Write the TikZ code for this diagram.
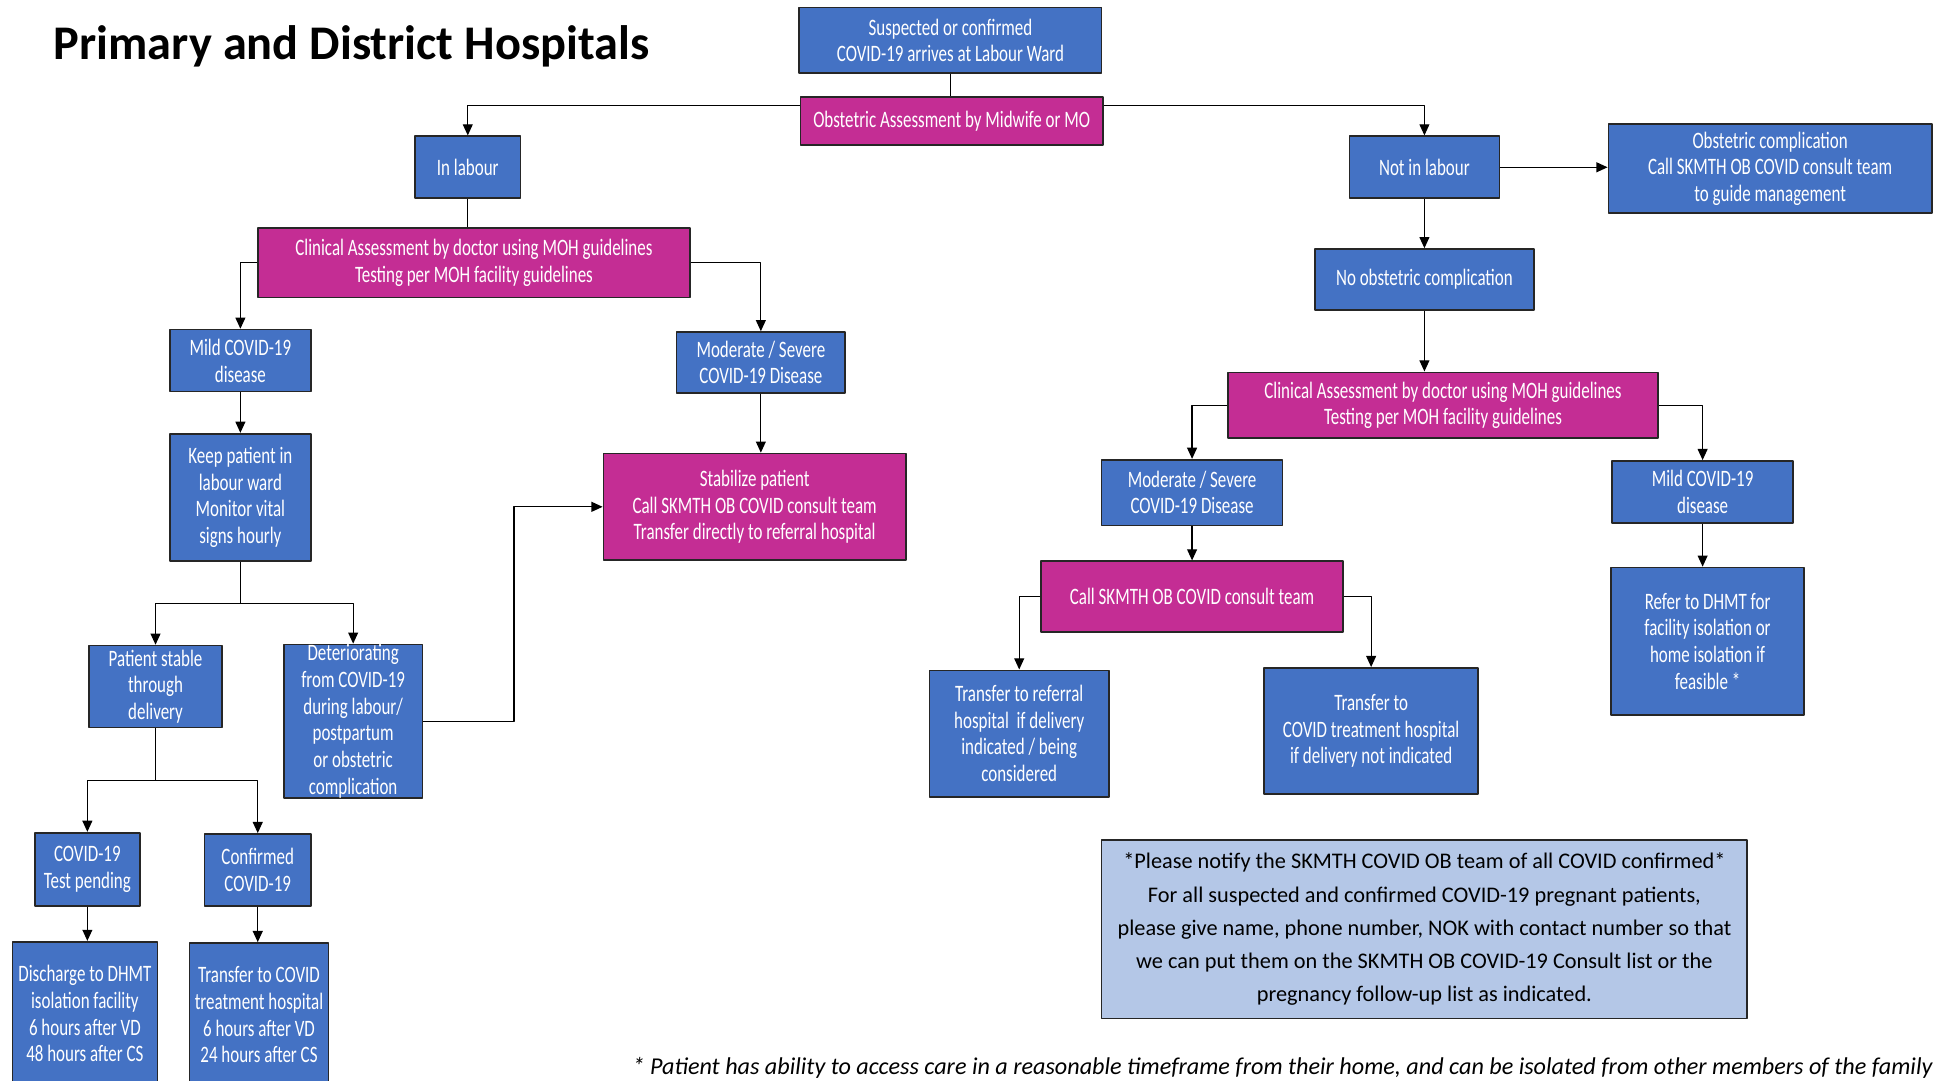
\documentclass[tikz,border=0pt]{standalone}
\usepackage{fontspec}
\setmainfont{Carlito}
\newfontfamily\boxfont[FakeStretch=0.72]{Carlito}
\usetikzlibrary{arrows.meta}
\definecolor{nblue}{HTML}{4472C4}
\definecolor{nmag}{HTML}{C42D94}
\definecolor{nnote}{HTML}{B4C7E7}
\definecolor{nline}{HTML}{262626}
\begin{document}
\begin{tikzpicture}[x=1pt,y=-1pt,>={Triangle[length=9pt,width=8pt]},line join=round,
	box/.style={draw=nline,line width=1.4pt,fill=nblue,text=white,align=center,inner sep=0pt,
		font=\boxfont\fontsize{19}{21.5}\selectfont},
	pbox/.style={box,fill=nmag},
	wh/.style 2 args={minimum width=#1pt,minimum height=#2pt},
	con/.style={line width=1pt}]
	\clip (0,0) rectangle (1568,872);
	% title and footnote
	\node[anchor=base west,font=\bfseries\fontsize{39}{46}\selectfont] (title) at (40,48) {Primary and District Hospitals};
	\node[anchor=base east,font=\itshape\fontsize{19.5}{22}\selectfont] (foot) at (1563,867)
	{* Patient has ability to access care in a reasonable timeframe from their home, and can be isolated from other members of the family};
	% top
	\node[box,wh={244}{53}] (sus) at (767,32.5) {Suspected or confirmed\\COVID-19 arrives at Labour Ward};
	\node[pbox,wh={244}{39}] (obs) at (768,97.5) {Obstetric Assessment by Midwife or MO};
	\node[box,wh={85}{50}] (inl) at (377.5,135) {In labour};
	\node[box,wh={121}{50}] (notl) at (1149.5,135) {Not in labour};
	% in labour branch
	\node[pbox,wh={349}{56}] (clinL) at (382.5,212) {Clinical Assessment by doctor using MOH guidelines\\Testing per MOH facility guidelines};
	\node[box,wh={114}{50}] (mildL) at (194,291) {Mild COVID-19\\disease};
	\node[box,wh={136}{49}] (modL) at (614,292.5) {Moderate / Severe\\COVID-19 Disease};
	\node[pbox,wh={244}{86}] (stab) at (609,409) {Stabilize patient\\Call SKMTH OB COVID consult team\\Transfer directly to referral hospital};
	\node[box,wh={114}{103}] (keep) at (194,401.5) {Keep patient in\\labour ward\\Monitor vital\\signs hourly};
	\node[box,wh={107}{66}] (stable) at (125.5,554) {Patient stable\\through\\delivery};
	\node[box,wh={112}{122}] (deter) at (285,582) {Deteriorating\\from COVID-19\\during labour/\\postpartum\\ or obstetric\\complication};
	\node[box,wh={85}{59}] (pend) at (70.5,701.5) {COVID-19\\Test pending};
	\node[box,wh={86}{58}] (conf) at (208,702) {Confirmed\\COVID-19};
	\node[box,wh={117}{116}] (disch) at (68.5,818) {Discharge to DHMT\\isolation facility\\6 hours after VD\\48 hours after CS};
	\node[box,wh={112}{116}] (trc) at (209,819) {Transfer to COVID\\treatment hospital\\6 hours after VD\\24 hours after CS};
	% not in labour branch
	\node[box,wh={261}{72}] (obsc) at (1428.5,136) {Obstetric complication\\Call SKMTH OB COVID consult team\\to guide management};
	\node[box,wh={177}{49}] (noobs) at (1149.5,225.5) {No obstetric complication};
	\node[pbox,wh={347}{53}] (clinR) at (1164.5,327) {Clinical Assessment by doctor using MOH guidelines\\Testing per MOH facility guidelines};
	\node[box,wh={146}{53}] (modR) at (962,397.5) {Moderate / Severe\\COVID-19 Disease};
	\node[box,wh={146}{50}] (mildR) at (1374,397) {Mild COVID-19\\disease};
	\node[pbox,wh={244}{57}] (callR) at (962,481.5) {Call SKMTH OB COVID consult team};
	\node[box,wh={145}{102}] (trref) at (822.5,592) {Transfer to referral\\hospital\ \ if delivery\\indicated / being\\considered};
	\node[box,wh={173}{102}] (trcv) at (1106.5,590) {Transfer to\\COVID treatment hospital\\if delivery not indicated};
	\node[box,wh={156}{119}] (refer) at (1378,517.5) {Refer to DHMT for\\facility isolation or\\home isolation if\\feasible *};
	\node[box,wh={521}{144},fill=nnote,text=black,font=\fontsize{18}{26.8}\selectfont] (note) at (1149.5,750)
	{*Please notify the SKMTH COVID OB team of all COVID confirmed*\\For all suspected and confirmed COVID-19 pregnant patients,\\please give name, phone number, NOK with contact number so that\\we can put them on the SKMTH OB COVID-19 Consult list or the\\pregnancy follow-up list as indicated.};
	% connectors
	\coordinate (split) at (767,85);
	\draw[con] (sus.south) -- (sus.south |- obs.north);
	\draw[con,->] (obs.west |- split) -| (inl);
	\draw[con,->] (obs.east |- split) -| (notl);
	\draw[con] (inl.south) -- (inl.south |- clinL.north);
	\draw[con,->] (clinL.west) -| (mildL);
	\draw[con,->] (clinL.east) -| (modL);
	\draw[con,->] (modL.south) -- (modL.south |- stab.north);
	\draw[con,->] (mildL) -- (keep);
	\coordinate (kfork) at (194,487);
	\draw[con] (keep) -- (kfork);
	\draw[con,->] (kfork) -| (stable);
	\draw[con,->] (kfork) -| (deter);
	\draw[con,->] (deter.east) -- ++(73,0) |- (stab.west);
	\coordinate (sfork) at (125.5,630);
	\draw[con] (stable) -- (sfork);
	\draw[con,->] (sfork) -| (pend);
	\draw[con,->] (sfork) -| (conf);
	\draw[con,->] (pend.south) -- (pend.south |- disch.north);
	\draw[con,->] (conf.south) -- (conf.south |- trc.north);
	\draw[con,->] (notl.east) -- (notl.east -| obsc.west);
	\draw[con,->] (notl) -- (noobs);
	\draw[con,->] (noobs) -- (noobs |- clinR.north);
	\draw[con,->] (clinR.west) -| (modR);
	\draw[con,->] (clinR.east) -| (mildR);
	\draw[con,->] (modR) -- (callR);
	\draw[con,->] (callR.west) -| (trref);
	\draw[con,->] (callR.east) -| (trcv);
	\draw[con,->] (mildR.south) -- (mildR.south |- refer.north);
\end{tikzpicture}
\end{document}
